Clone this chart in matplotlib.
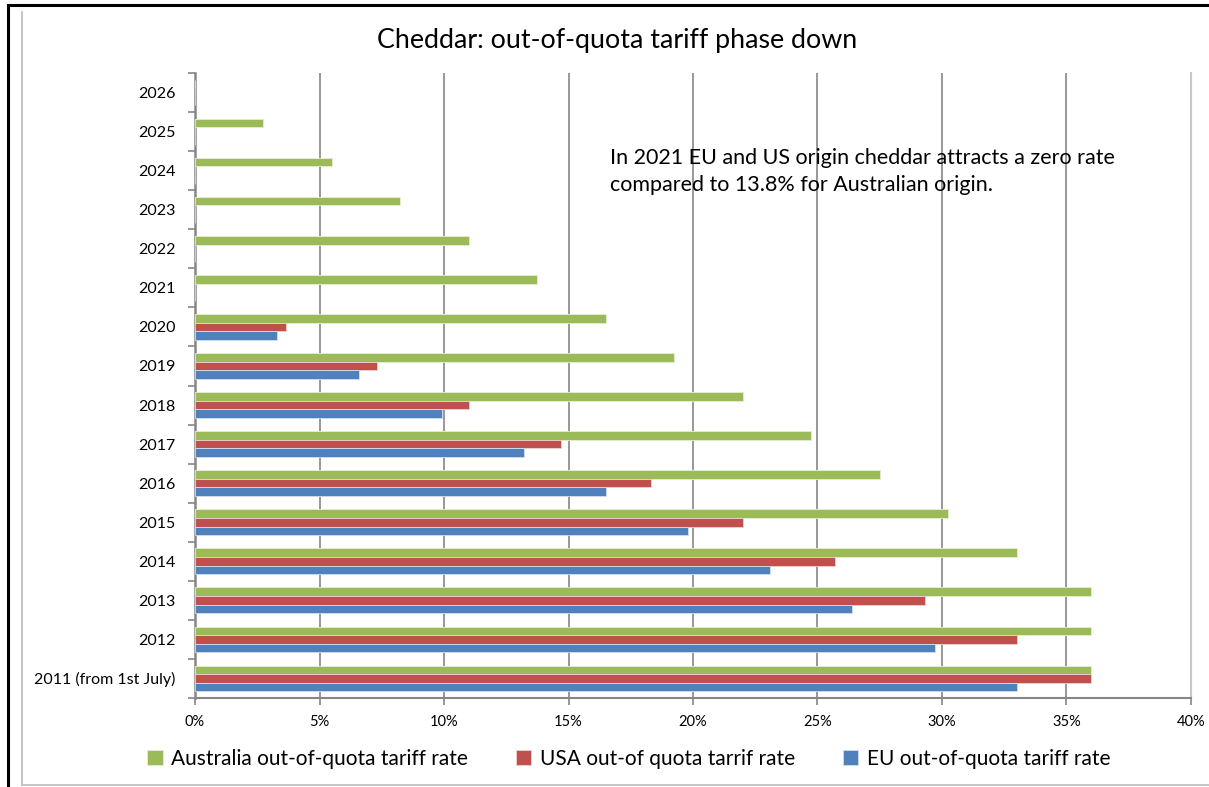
import matplotlib
matplotlib.use("Agg")
import matplotlib.pyplot as plt
from matplotlib.lines import Line2D
import numpy as np

plt.rcParams['font.family'] = ['Lato', 'DejaVu Sans']

# Tariff rates by year (percent)
years = ["2011 (from 1st July)", "2012", "2013", "2014", "2015", "2016", "2017",
         "2018", "2019", "2020", "2021", "2022", "2023", "2024", "2025", "2026"]
australia = [36, 36, 36, 33, 30.25, 27.5, 24.75, 22, 19.25, 16.5, 13.75, 11, 8.25, 5.5, 2.75, 0]
usa = [36, 33, 29.3, 25.7, 22, 18.3, 14.7, 11, 7.3, 3.65, 0, 0, 0, 0, 0, 0]
eu = [33, 29.7, 26.4, 23.1, 19.8, 16.5, 13.2, 9.9, 6.6, 3.3, 0, 0, 0, 0, 0, 0]

green = "#9bbb59"
red = "#c0504d"
blue = "#4f81bd"

fig = plt.figure(figsize=(12.09, 7.87), dpi=100)
ax = fig.add_axes([0.1613, 0.1131, 0.8238, 0.7941])

y = np.arange(len(years))
h = 0.22
ax.barh(y + h, australia, height=h, color=green, edgecolor="#e6efd6", linewidth=0.6,
        label="Australia out-of-quota tariff rate", zorder=3)
ax.barh(y, usa, height=h, color=red, edgecolor="#efd2d1", linewidth=0.6,
        label="USA out-of quota tarrif rate", zorder=3)
ax.barh(y - h, eu, height=h, color=blue, edgecolor="#d3dfee", linewidth=0.6,
        label="EU out-of-quota tariff rate", zorder=3)

ax.set_xlim(0, 40)
ax.set_ylim(-0.5, len(years) - 0.5)
ax.set_xticks(np.arange(0, 41, 5))
ax.set_xticklabels([f"{v}%" for v in range(0, 41, 5)], fontsize=10.5)
ax.set_yticks(y)
ax.set_yticklabels(years, fontsize=11.5)
ax.set_yticks(np.arange(-0.5, len(years), 1), minor=True)
ax.tick_params(axis="y", which="major", length=0, pad=14)
ax.tick_params(axis="y", which="minor", length=5, color="#868686", width=1.2)
ax.tick_params(axis="x", length=5, color="#868686", width=1.2, pad=7)

ax.grid(axis="x", color="#868686", linewidth=1.2, zorder=0)
ax.spines["top"].set_visible(False)
ax.spines["right"].set_color("#c8c8c8")
ax.spines["right"].set_linewidth(1.5)
ax.spines["left"].set_color("#868686")
ax.spines["left"].set_linewidth(1.8)
ax.spines["bottom"].set_color("#868686")
ax.spines["bottom"].set_linewidth(1.5)

fig.text(0.5105, 0.949, "Cheddar: out-of-quota tariff phase down", fontsize=19.3,
         ha="center", va="center")
ax.text(16.65, 12.98, "In 2021 EU and US origin cheddar attracts a zero rate\n"
        "compared to 13.8% for Australian origin.", fontsize=15.5,
        va="center", ha="left", linespacing=1.45)

fig.legend(loc="center", bbox_to_anchor=(0.52, 0.036), ncol=3, frameon=False,
           fontsize=15, handlelength=0.75, handleheight=0.75, handletextpad=0.4,
           columnspacing=2.3)

# outer frame lines
fig.add_artist(Line2D([0.0066, 0.0066], [0, 0.994], color="black", lw=2.2,
                      transform=fig.transFigure))
fig.add_artist(Line2D([0.0066, 1], [0.994, 0.994], color="black", lw=2.2,
                      transform=fig.transFigure))
fig.add_artist(Line2D([0.0185, 0.0185], [0.003, 0.985], color="#bfbfbf", lw=1.3,
                      transform=fig.transFigure))
fig.add_artist(Line2D([0.0185, 1], [0.003, 0.003], color="#bfbfbf", lw=1.3,
                      transform=fig.transFigure))

fig.savefig("out.png", dpi=100)
